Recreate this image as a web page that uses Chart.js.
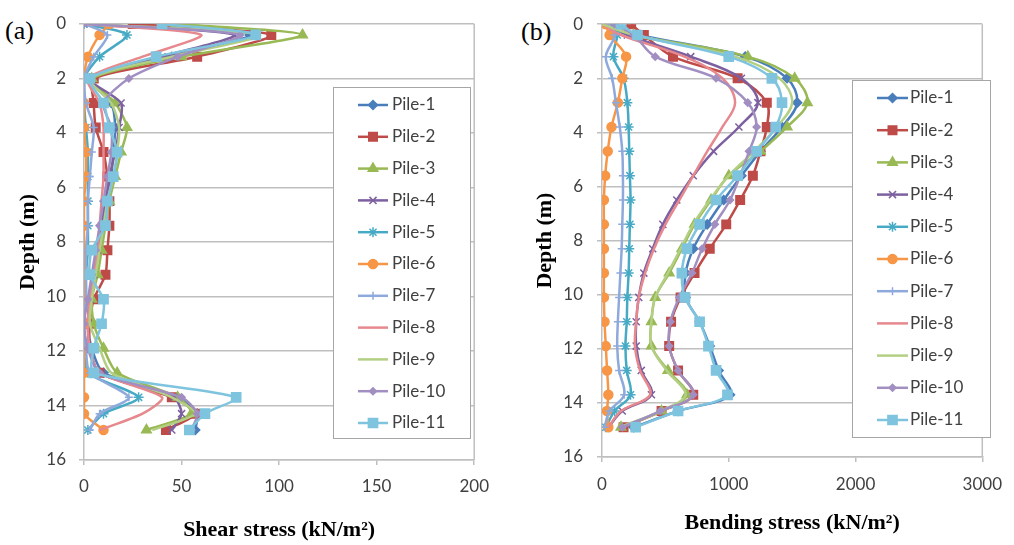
<!DOCTYPE html>
<html>
<head>
<meta charset="utf-8">
<script src="https://cdn.jsdelivr.net/npm/chart.js@4.4.0/dist/chart.umd.min.js"></script>
<style>
  body { margin: 0; background: #fff; width: 1014px; height: 545px; position: relative; overflow: hidden; }
  canvas { position: absolute; top: 0; }
  .tag { position: absolute; font-family: 'Liberation Serif', serif; font-size: 26px; line-height: 26px; color: #000; }
</style>
</head>
<body>
<div class="tag" style="left:5px; top:18px">(a)</div>
<div class="tag" style="left:521px; top:19px">(b)</div>
<canvas id="shearChart" width="500" height="545" style="left:0"></canvas>
<canvas id="bendChart" width="514" height="545" style="left:500px"></canvas>
<script>
// depth of the output nodes along each pile (m)
const depth = [0, 0.4, 1.2, 2.0, 2.9, 3.8, 4.7, 5.6, 6.5, 7.4, 8.3, 9.2, 10.1, 11.0, 11.9, 12.8, 13.7, 14.3, 14.9];
const piles = ['Pile-1', 'Pile-2', 'Pile-3', 'Pile-4', 'Pile-5', 'Pile-6', 'Pile-7', 'Pile-8', 'Pile-9', 'Pile-10', 'Pile-11'];

// (a) shear stress, kN/m2
const shear1  = [47, 85, 45, 3, 14, 16, 15, 14, 12, 10, 8, 5, 3, 2, 4, 10, 48, 58, 57];
const shear2  = [25, 96, 58, 5, 5, 6, 10, 12, 13, 13, 12, 11, 5, 3, 3, 8, 45, 57, 42];
const shear3  = [47, 112, 50, 4, 16, 22, 19, 16, 13, 11, 9, 7, 4, 5, 10, 17, 48, 55, 32];
const shear4  = [0, 77, 40, 3, 19, 18, 16, 13, 11, 9, 7, 5, 3, 2, 3, 8, 46, 50, 45];
const shear5  = [0, 22, 8, 0, 0, 1, 2, 2, 2, 2, 2, 1, 1, 0, 0, 2, 28, 10, 2];
const shear6  = [13, 8, 2, 0, 0, 0, 1, 1, 0, 0, 0, 0, 0, 0, 0, 0, 0, 0, 10];
const shear7  = [0, 12, 5, 0, 1, 5, 4, 3, 2, 2, 1, 1, 1, 0, 1, 3, 23, 8, 3];
const shear8  = [0, 60, 30, 2, 8, 10, 10, 10, 9, 8, 7, 5, 3, 2, 3, 8, 40, 30, 8];
const shear9  = [0, 90, 45, 3, 14, 18, 17, 15, 12, 10, 8, 6, 4, 3, 8, 14, 45, 57, 35];
const shear10 = [0, 80, 48, 23, 10, 14, 14, 12, 10, 8, 6, 4, 2, 0, 2, 8, 50, 58, 55];
const shear11 = [40, 88, 37, 3, 10, 13, 17, 15, 12, 11, 4, 3, 10, 9, 5, 5, 78, 62, 54];

// (b) bending stress, kN/m2
const bend1  = [80, 300, 1130, 1460, 1540, 1420, 1250, 1100, 960, 830, 720, 660, 660, 770, 850, 920, 1010, 600, 250];
const bend2  = [230, 330, 560, 1070, 1300, 1300, 1250, 1190, 1090, 980, 850, 730, 620, 545, 530, 600, 720, 470, 170];
const bend3  = [0, 250, 1150, 1520, 1620, 1460, 1250, 1000, 860, 730, 630, 530, 420, 390, 390, 520, 670, 470, 150];
const bend4  = [30, 200, 700, 1100, 1230, 1080, 880, 720, 590, 480, 400, 330, 290, 270, 270, 310, 390, 160, 50];
const bend5  = [100, 120, 90, 170, 200, 210, 215, 220, 225, 220, 215, 210, 200, 195, 185, 195, 225, 100, 30];
const bend6  = [30, 60, 190, 160, 125, 75, 45, 25, 15, 15, 15, 15, 15, 20, 30, 40, 50, 40, 50];
const bend7  = [50, 100, 30, 80, 110, 140, 160, 165, 165, 160, 155, 145, 135, 125, 120, 135, 175, 60, 20];
const bend8  = [0, 150, 650, 950, 1050, 950, 830, 720, 610, 500, 410, 340, 290, 270, 260, 300, 380, 150, 50];
const bend9  = [0, 250, 1050, 1400, 1500, 1380, 1200, 1000, 850, 720, 620, 520, 420, 390, 390, 510, 660, 460, 140];
const bend10 = [100, 250, 420, 900, 1150, 1220, 1160, 1090, 1010, 890, 790, 710, 610, 540, 530, 600, 720, 460, 160];
const bend11 = [150, 280, 1000, 1340, 1420, 1370, 1220, 1070, 900, 770, 670, 630, 655, 770, 840, 900, 990, 600, 265];

const shearData = [shear1, shear2, shear3, shear4, shear5, shear6, shear7, shear8, shear9, shear10, shear11];
const bendData = [bend1, bend2, bend3, bend4, bend5, bend6, bend7, bend8, bend9, bend10, bend11];

// excel-like series look
const pileColors = ['#4a7ebb', '#be4b48', '#98b954', '#7d60a0', '#46aac5', '#f79646', '#8ea9db', '#e6888d', '#b3cf84', '#a28fc1', '#7fc4de'];
const pileMarkers = [
    { style: 'rectRot', r: 4.5 },
    { style: 'rect', r: 6 },
    { style: 'triangle', r: 5.5 },
    { style: 'crossRot', r: 5 },
    { style: 'star', r: 5 },
    { style: 'circle', r: 4.5 },
    { style: 'cross', r: 4 },
    { style: 'circle', r: 0 },
    { style: 'circle', r: 0 },
    { style: 'rectRot', r: 3.5 },
    { style: 'rect', r: 6.5 }
];

function makeSets(values, tension) {
    return values.map((vals, i) => ({
        label: piles[i],
        data: vals.map((v, k) => ({ x: v, y: depth[k] })),
        showLine: true,
        tension: tension,
        borderColor: pileColors[i],
        backgroundColor: pileColors[i],
        borderWidth: 2.5,
        pointStyle: pileMarkers[i].style,
        pointRadius: pileMarkers[i].r,
        pointBorderWidth: 1.5,
        order: 11 - i
    }));
}

// legend in a framed box + right edge of plot
const boxLegend = {
    id: 'boxLegend',
    afterDraw(chart, args, o) {
        const ctx = chart.ctx;
        const area = chart.chartArea;
        ctx.save();
        ctx.strokeStyle = '#bfbfbf';
        ctx.lineWidth = 1.5;
        ctx.beginPath();
        ctx.moveTo(area.right, area.top);
        ctx.lineTo(area.right, area.bottom);
        ctx.stroke();

        ctx.fillStyle = '#fff';
        ctx.fillRect(o.x, o.y, o.w, o.h);
        ctx.strokeStyle = '#a6a6a6';
        ctx.lineWidth = 1;
        ctx.strokeRect(o.x + 0.5, o.y + 0.5, o.w, o.h);

        chart.data.datasets.forEach((ds, i) => {
            const cy = o.rowTop + i * o.rowGap;
            ctx.strokeStyle = ds.borderColor;
            ctx.lineWidth = 2.5;
            ctx.beginPath();
            ctx.moveTo(o.lineX, cy);
            ctx.lineTo(o.lineX + o.lineW, cy);
            ctx.stroke();
            if (ds.pointRadius > 0 && Chart.helpers && Chart.helpers.drawPoint) {
                ctx.fillStyle = ds.backgroundColor;
                ctx.lineWidth = ds.pointBorderWidth;
                Chart.helpers.drawPoint(ctx, {
                    pointStyle: ds.pointStyle,
                    radius: ds.pointRadius,
                    rotation: 0,
                    borderWidth: ds.pointBorderWidth
                }, o.lineX + o.lineW / 2, cy);
            }
            ctx.fillStyle = '#404040';
            ctx.font = '17px Lato';
            ctx.textAlign = 'left';
            ctx.textBaseline = 'middle';
            ctx.fillText(ds.label, o.textX, cy);
        });
        ctx.restore();
    }
};

const tickFont = { family: 'Lato', size: 17 };
const titleFont = { family: 'Liberation Serif', size: 22, weight: 'bold' };

function buildOptions(cfg) {
    return {
        responsive: false,
        animation: false,
        devicePixelRatio: 1,
        layout: { padding: { left: 0, top: cfg.top, right: cfg.right, bottom: 0 } },
        plugins: {
            legend: { display: false },
            tooltip: { enabled: false },
            boxLegend: cfg.legend
        },
        scales: {
            x: {
                type: 'linear',
                min: 0,
                max: cfg.xMax,
                ticks: { stepSize: cfg.xStep, padding: cfg.xPad, color: '#404040', font: tickFont, format: { useGrouping: false } },
                grid: { drawOnChartArea: false, color: '#bfbfbf', lineWidth: 1.5, tickLength: 5 },
                border: { color: '#bfbfbf', width: 1.5 },
                title: { display: true, text: cfg.xTitle, color: '#000', font: titleFont, padding: { top: 0, bottom: cfg.xTitlePad } },
                afterFit: s => { s.height = cfg.xHeight; }
            },
            y: {
                type: 'linear',
                reverse: true,
                min: 0,
                max: 16,
                ticks: { stepSize: 2, padding: cfg.yPad, color: '#404040', font: tickFont },
                grid: { color: '#bfbfbf', lineWidth: 1.5, tickLength: 5 },
                border: { color: '#bfbfbf', width: 1.5 },
                title: { display: true, text: 'Depth (m)', color: '#000', font: titleFont, padding: { top: cfg.yTitlePad, bottom: 0 } },
                afterFit: s => { s.width = cfg.yWidth; }
            }
        }
    };
}

new Chart(document.getElementById('shearChart'), {
    type: 'scatter',
    data: { datasets: makeSets(shearData, 0.25) },
    options: buildOptions({
        top: 24, right: 22, xMax: 200, xStep: 50, xPad: 11, xHeight: 85,
        xTitle: 'Shear stress (kN/m²)', xTitlePad: 1, yPad: 13, yWidth: 84, yTitlePad: 15,
        legend: { x: 333, y: 87, w: 137, h: 351, rowTop: 105, rowGap: 31.8, lineX: 358, lineW: 30, textX: 392 }
    }),
    plugins: [boxLegend]
});

new Chart(document.getElementById('bendChart'), {
    type: 'scatter',
    data: { datasets: makeSets(bendData, 0.35) },
    options: buildOptions({
        top: 17, right: 19, xMax: 3000, xStep: 1000, xPad: 12, xHeight: 88,
        xTitle: 'Bending stress (kN/m²)', xTitlePad: 8, yPad: 14, yWidth: 102, yTitlePad: 32,
        legend: { x: 352, y: 80, w: 138, h: 357, rowTop: 98, rowGap: 32.2, lineX: 377, lineW: 31, textX: 410 }
    }),
    plugins: [boxLegend]
});
</script>
</body>
</html>
